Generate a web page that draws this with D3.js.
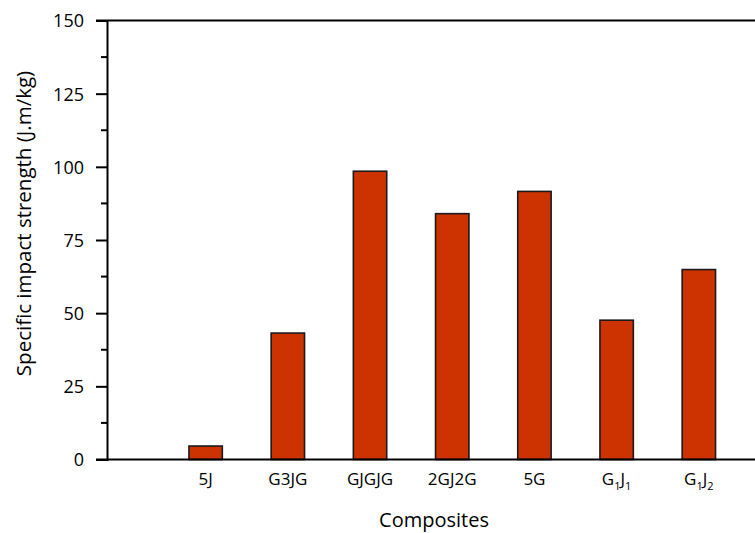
<!DOCTYPE html>
<html>
<head>
<meta charset="utf-8">
<script src="https://cdn.jsdelivr.net/npm/d3@7"></script>
<style>
  body { margin: 0; background: #fff; }
  text { font-family: "Open Sans", Lato, sans-serif; fill: #000; }
</style>
</head>
<body>
<div id="plothere"></div>
<script>
// categories in slot order (slot 0 left empty, like the original)
var categories = [
  {main: "5J"},
  {main: "G3JG"},
  {main: "GJGJG"},
  {main: "2GJ2G"},
  {main: "5G"},
  {parts: [["G", ""], ["1", "sub"], ["J", ""], ["1", "sub"]]},
  {parts: [["G", ""], ["1", "sub"], ["J", ""], ["2", "sub"]]}
];
var slots = [1, 2, 3, 4, 5, 6, 7];
var values = [4.6, 43.2, 98.5, 84.0, 91.6, 47.6, 64.9];
var yTicks = [0, 25, 50, 75, 100, 125, 150];
var yMinor = [12.5, 37.5, 62.5, 87.5, 112.5, 137.5];

var W = 755, H = 533;
var x0 = 107, yTop = 20.5, yBot = 459.5;

var svg = d3.select("#plothere")
  .append("svg")
  .attr("width", W)
  .attr("height", H);

var xs = d3.scaleLinear()
  .domain([-0.2, 8])
  .range([x0, x0 + 8.2 * 82.2]);
var ys = d3.scaleLinear()
  .domain([0, 150])
  .range([yBot, yTop]);

var barW = xs(0.406) - xs(0);

// bars
svg.append("g").selectAll("rect")
  .data(values)
  .enter().append("rect")
  .attr("x", (d, i) => xs(slots[i]) - barW / 2)
  .attr("y", d => ys(d))
  .attr("width", barW)
  .attr("height", d => ys(0) - ys(d))
  .attr("fill", "#cc3300")
  .attr("stroke", "#1a1a1a")
  .attr("stroke-width", 1.6);

// top frame line
svg.append("line")
  .attr("x1", x0 - 11).attr("x2", W)
  .attr("y1", ys(150)).attr("y2", ys(150))
  .attr("stroke", "#000").attr("stroke-width", 2);

// y axis
var yax = svg.append("g")
  .attr("transform", "translate(" + x0 + ",0)")
  .call(d3.axisLeft(ys).tickValues(yTicks).tickSize(11).tickPadding(12));
yax.select(".domain").attr("stroke-width", 2);
yax.selectAll(".tick line").attr("stroke-width", 2);
yax.selectAll(".tick text").style("font-size", "18px").attr("dy", "0.36em");

// minor ticks
svg.append("g").selectAll("line")
  .data(yMinor)
  .enter().append("line")
  .attr("x1", x0 - 6).attr("x2", x0)
  .attr("y1", d => ys(d)).attr("y2", d => ys(d))
  .attr("stroke", "#000").attr("stroke-width", 2);

// x axis line
svg.append("line")
  .attr("x1", x0 - 11).attr("x2", W)
  .attr("y1", ys(0)).attr("y2", ys(0))
  .attr("stroke", "#000").attr("stroke-width", 2);

// x tick labels
var lab = svg.append("g").selectAll("text")
  .data(categories)
  .enter().append("text")
  .attr("x", (d, i) => xs(slots[i]))
  .attr("y", 485)
  .attr("text-anchor", "middle")
  .style("font-size", "17px");
lab.each(function(d) {
  var t = d3.select(this);
  if (d.main) { t.text(d.main); return; }
  d.parts.forEach(p => {
    var ts = t.append("tspan").text(p[0]);
    if (p[1] == "sub") ts.attr("dy", 5).style("font-size", "11px");
    else ts.attr("dy", t.selectAll("tspan").size() > 1 ? -5 : 0);
  });
});

// axis titles
svg.append("text")
  .attr("x", 434).attr("y", 527)
  .attr("text-anchor", "middle")
  .style("font-size", "20px")
  .text("Composites");
svg.append("text")
  .attr("transform", "translate(31,223.5) rotate(-90)")
  .attr("text-anchor", "middle")
  .style("font-size", "20.5px")
  .text("Specific impact strength (J.m/kg)");
</script>
</body>
</html>
